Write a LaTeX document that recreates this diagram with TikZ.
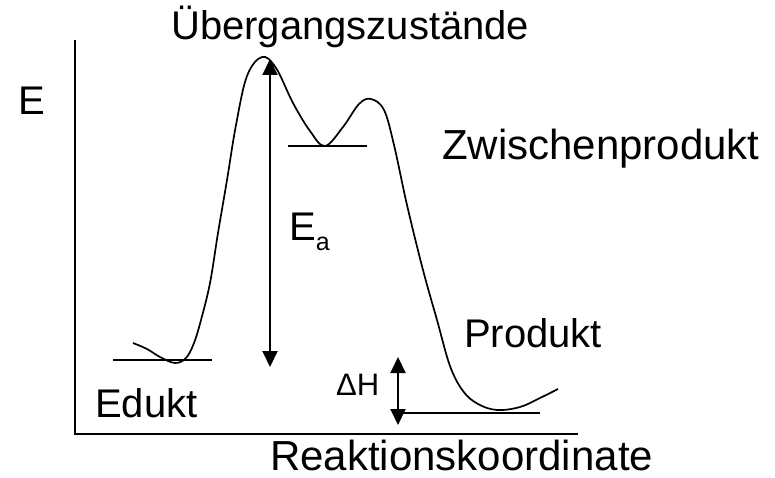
\documentclass[tikz,border=0pt]{standalone}
\usepackage{fontspec}
\setmainfont{Liberation Sans}
\usetikzlibrary{positioning,arrows.meta}

\begin{document}
\begin{tikzpicture}[
    x=1pt, y=-1pt, >={Triangle[width=15pt,length=16pt]},
    lbl/.style={font=\fontsize{40}{48}\selectfont, inner sep=0pt, anchor=base west},
    big/.style={font=\fontsize{42}{50}\selectfont},
    axis/.style={line width=2.2pt},
    level/.style={line width=1.5pt},
    curve/.style={line width=1.7pt, smooth, tension=0.6},
    dbl/.style={<->, line width=2pt}]
  \useasboundingbox (0,0) rectangle (775,478);
  % axes
  \coordinate (ytop) at (75,40);
  \coordinate (origin) at (75,434);
  \coordinate (xend) at (578,434);
  \draw[axis] (ytop) -- (origin) -- (xend);
  \node[lbl] (ylab) at (18,115) {E};
  \node[lbl, big] (xlab) at (270,470) {Reaktionskoordinate};
  % energy levels
  \coordinate (edL) at (113,360);
  \coordinate (edR) at (212,360);
  \coordinate (zwL) at (288,146);
  \coordinate (zwR) at (367,146);
  \coordinate (prL) at (398,413);
  \coordinate (prR) at (540,413);
  \draw[level] (edL) -- (edR);
  \draw[level] (zwL) -- (zwR);
  \draw[level] (prL) -- (prR);
  % reaction path
  \draw[curve] plot coordinates {(133,343) (147,349) (160,357) (175,363)
    (186,358) (194,343) (201,320) (210,283) (218,233) (227,180) (236,125)
    (247,76) (262,57) (276,68) (293,103) (310,131) (325,146) (343,127)
    (359,104) (371,99) (384,110) (394,145) (407,205) (423,270) (437,320)
    (450,366) (463,391) (478,404) (497,410) (520,407) (540,398) (558,389)};
  % arrows
  \coordinate (eaTop) at (270,59);
  \coordinate (eaBot) at (270,367);
  \coordinate (dhTop) at (398,357);
  \coordinate (dhBot) at (398,425);
  \draw[dbl] (eaBot) -- (eaTop);
  \draw[dbl] (dhBot) -- (dhTop);
  \node[lbl] (ea) at (289,240) {E\raisebox{-10pt}{\fontsize{25}{30}\selectfont a}};
  \node[lbl, font=\fontsize{31}{37}\selectfont] (dh) at (336,395) {ΔH};
  % labels
  \node[lbl] (ts) at (171,40) {Übergangszustände};
  \node[lbl, big] (zw) at (442,160) {Zwischenprodukt};
  \node[lbl] (ed) at (95,417) {Edukt};
  \node[lbl] (pr) at (464,347) {Produkt};
\end{tikzpicture}
\end{document}
